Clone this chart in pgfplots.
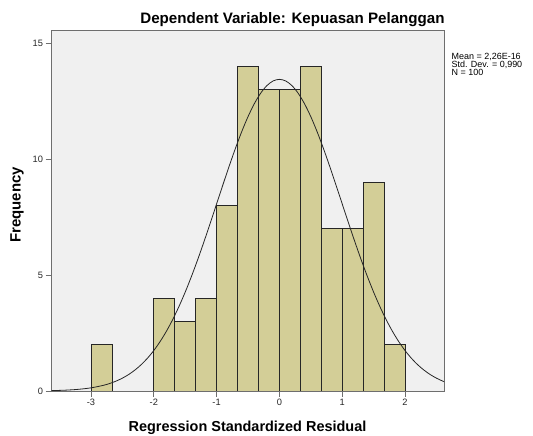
\documentclass[border=0pt]{standalone}
\usepackage{fontspec}
\setmainfont{Liberation Sans}
\usepackage{pgfplots}
\pgfplotsset{compat=1.18}
\definecolor{bgc}{RGB}{240,240,240}
\definecolor{barc}{RGB}{211,206,151}
\definecolor{framec}{RGB}{110,110,110}
\begin{document}
\begin{tikzpicture}[x=1bp,y=1bp]
\path[use as bounding box] (0,0) rectangle (533,436);
\begin{axis}[
  at={(51.5bp,45bp)}, anchor=south west,
  scale only axis, width=392.5bp, height=361bp,
  xmin=-3.629, xmax=2.621, ymin=0, ymax=15.56,
  xtick={-3,-2,-1,0,1,2}, ytick={0,5,10,15},
  xtick pos=bottom, ytick pos=left,
  tick align=outside, major tick length=6bp,
  minor tick num=0,
  axis line style={framec, line width=0.9pt},
  every tick/.style={framec, line width=0.8pt},
  axis background/.style={fill=bgc},
  /pgf/number format/assume math mode=true,
  tick label style={font=\fontsize{9.3}{10}\selectfont, text=black!85},
  yticklabel style={xshift=1bp},
  xticklabel style={yshift=1bp},
  clip=true,
]
\addplot[ybar interval, fill=barc, draw=black!85, line width=0.7pt]
  coordinates {(-3,2) (-2.6667,0)};
\addplot[ybar interval, fill=barc, draw=black!85, line width=0.7pt]
  coordinates {
  (-2,4) (-1.6667,3) (-1.3333,4) (-1,8) (-0.6667,14) (-0.3333,13)
  (0,13) (0.3333,14) (0.6667,7) (1,7) (1.3333,9) (1.6667,2) (2,0)};
\addplot[smooth, black!85, line width=0.8pt] coordinates {
  (-3.7,0.0124) (-3.6,0.0181) (-3.4,0.0369) (-3.2,0.0723) (-3.0,0.136)
  (-2.8,0.246) (-2.7,0.326) (-2.6,0.427) (-2.5,0.554) (-2.4,0.711)
  (-2.3,0.904) (-2.2,1.137) (-2.1,1.416) (-2.0,1.745) (-1.9,2.130)
  (-1.8,2.572) (-1.7,3.075) (-1.6,3.639) (-1.5,4.262) (-1.4,4.942)
  (-1.3,5.671) (-1.2,6.443) (-1.1,7.245) (-1.0,8.065) (-0.9,8.886)
  (-0.8,9.690) (-0.7,10.461) (-0.6,11.178) (-0.5,11.824) (-0.4,12.379)
  (-0.3,12.829) (-0.2,13.161) (-0.1,13.364) (0,13.432)
  (0.1,13.364) (0.2,13.161) (0.3,12.829) (0.4,12.379) (0.5,11.824)
  (0.6,11.178) (0.7,10.461) (0.8,9.690) (0.9,8.886) (1.0,8.065)
  (1.1,7.245) (1.2,6.443) (1.3,5.671) (1.4,4.942) (1.5,4.262)
  (1.6,3.639) (1.7,3.075) (1.8,2.572) (1.9,2.130) (2.0,1.745)
  (2.1,1.416) (2.2,1.137) (2.3,0.904) (2.4,0.711) (2.5,0.554)
  (2.6,0.427) (2.7,0.326)};
\end{axis}
\node[anchor=base, font=\bfseries\fontsize{15.2}{17}\selectfont] at (292.5,412.7) {Dependent Variable: Kepuasan Pelanggan};
\node[anchor=base, font=\bfseries\fontsize{14.5}{16}\selectfont] at (247.5,4.3) {Regression Standardized Residual};
\node[anchor=base, rotate=90, font=\bfseries\fontsize{15}{16}\selectfont] at (20.7,231) {Frequency};
\node[anchor=base west, inner sep=0pt, font=\fontsize{9}{10}\selectfont] at (451.5,376.7) {Mean = 2,26E-16};
\node[anchor=base west, inner sep=0pt, font=\fontsize{9}{10}\selectfont] at (451.5,368.5) {Std. Dev. = 0,990};
\node[anchor=base west, inner sep=0pt, font=\fontsize{9}{10}\selectfont] at (451.5,360.5) {N = 100};
\end{tikzpicture}
\end{document}
